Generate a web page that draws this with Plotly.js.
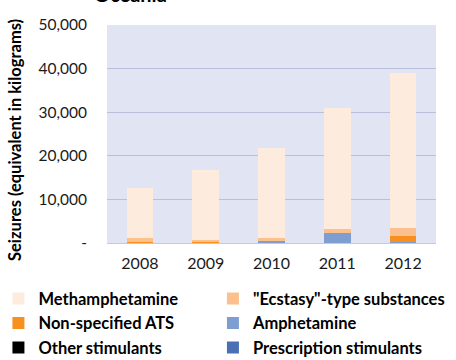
<!DOCTYPE html>
<html>
<head>
<meta charset="utf-8">
<script src="https://cdn.plot.ly/plotly-3.0.1.min.js"></script>
<style>html,body{margin:0;padding:0;background:#fff;}#chart{width:456px;height:360px;}</style>
</head>
<body>
<div id="chart"></div>
<script>
var years = ["2008", "2009", "2010", "2011", "2012"];
var prescription = [0, 0, 0, 0, 0];
var otherStimulants = [0, 0, 0, 0, 0];
var amphetamine = [0, 0, 500, 2300, 150];
var nonSpecified = [200, 150, 0, 0, 1500];
var ecstasy = [1000, 450, 700, 800, 1850];
var methamphetamine = [11500, 16100, 20500, 27900, 35400];
var yTickVals = [0, 10000, 20000, 30000, 40000, 50000];
var yTickText = ["-", "10,000", "20,000", "30,000", "40,000", "50,000"];

function bar(name, vals, color, rank, leg) {
  return {type: "bar", name: name, x: years, y: vals, marker: {color: color, line: {width: 0}},
          legendrank: rank, legend: leg, hoverinfo: "x+y+name"};
}
var data = [
  bar("Prescription stimulants", prescription, "#4A6FB5", 3, "legend2"),
  bar("Other stimulants", otherStimulants, "#000000", 3, "legend"),
  bar("Amphetamine", amphetamine, "#7E9ED2", 2, "legend2"),
  bar("Non-specified ATS", nonSpecified, "#F7901E", 2, "legend"),
  bar("\"Ecstasy\"-type substances", ecstasy, "#FBC08D", 1, "legend2"),
  bar("Methamphetamine", methamphetamine, "#FDEBDD", 1, "legend")
];
var legFont = {size: 16.5, color: "#000", weight: "bold", family: "Lato, 'Open Sans', sans-serif"};
var layout = {
  width: 456, height: 360,
  margin: {l: 107, r: 20, t: 25, b: 117, autoexpand: false},
  paper_bgcolor: "#ffffff",
  plot_bgcolor: "#E1E5F3",
  barmode: "stack",
  bargap: 0.595,
  font: {family: "Lato, 'Open Sans', sans-serif", color: "#1a1a1a"},
  annotations: [
    {text: "<b>Oceania</b>", xref: "paper", yref: "paper", x: (92 - 107) / 329, y: (243 - 8) / 218,
     xanchor: "left", yanchor: "bottom", showarrow: false, font: {size: 20, color: "#000"}},
    {text: "<b>Seizures (equivalent in kilograms)</b>", xref: "paper", yref: "paper", x: (15 - 107) / 329, y: (243 - 140) / 218,
     xanchor: "center", yanchor: "middle", textangle: -90, showarrow: false, font: {size: 16.5, color: "#000"}}
  ],
  xaxis: {type: "category", tickfont: {size: 16, color: "#1a1a1a"}, showline: true, linecolor: "#C4C9DE", linewidth: 1,
          ticks: "", ticklabelstandoff: 6, fixedrange: true},
  yaxis: {range: [0, 50000], tickvals: yTickVals, ticktext: yTickText, tickfont: {size: 15.5, color: "#1a1a1a"},
          gridcolor: "#B9BEDA", gridwidth: 1, zeroline: false, ticks: "", ticklabelstandoff: 19},
  legend: {orientation: "v", x: -0.33, xanchor: "left", y: -0.176, yanchor: "top",
           font: legFont, traceorder: "normal", itemclick: false, itemdoubleclick: false, bgcolor: "rgba(0,0,0,0)"},
  legend2: {orientation: "v", x: 0.322, xanchor: "left", y: -0.176, yanchor: "top",
           font: legFont, traceorder: "normal", itemclick: false, itemdoubleclick: false, bgcolor: "rgba(0,0,0,0)"},
  showlegend: true
};
Plotly.newPlot("chart", data, layout, {displayModeBar: false, staticPlot: true});
</script>
</body>
</html>
